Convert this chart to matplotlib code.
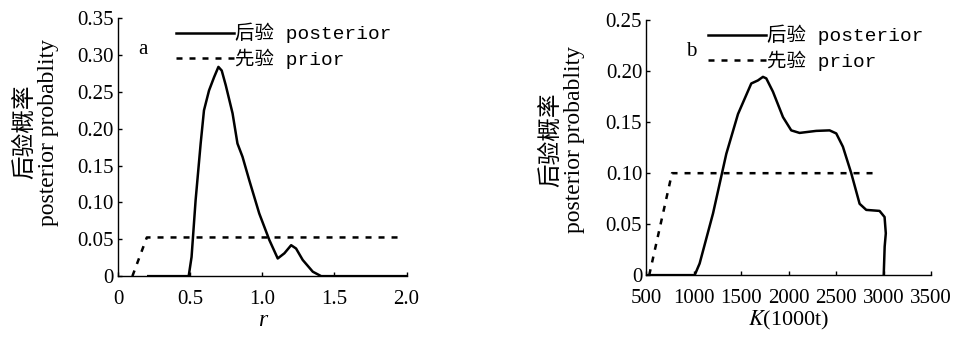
import matplotlib
matplotlib.use('Agg')
from matplotlib import pyplot as plt

plt.rcParams['mathtext.fontset'] = 'stix'

# panel a: growth rate r
r_post_x = [0.21, 0.43, 0.49, 0.51, 0.538, 0.573, 0.596, 0.631, 0.666, 0.696, 0.719, 0.747,
            0.794, 0.828, 0.863, 0.91, 0.979, 1.049, 1.107, 1.153, 1.2, 1.234, 1.28, 1.35, 1.408, 2.0]
r_post_y = [0, 0, 0, 0.026, 0.103, 0.18, 0.225, 0.252, 0.27, 0.284, 0.279, 0.259,
            0.221, 0.18, 0.162, 0.13, 0.085, 0.049, 0.024, 0.031, 0.042, 0.0375, 0.022, 0.006, 0, 0]
r_prior_x = [0.1, 0.2, 1.95]
r_prior_y = [0, 0.0525, 0.0525]

# panel b: carrying capacity K
k_post_x = [500, 1009, 1061, 1202, 1342, 1465, 1605, 1675, 1728, 1763, 1833, 1939, 2026, 2114,
            2289, 2430, 2500, 2570, 2658, 2746, 2816, 2956, 3009, 3022, 3010, 3000]
k_post_y = [0, 0, 0.0114, 0.0605, 0.119, 0.158, 0.188, 0.191, 0.1945, 0.193, 0.18, 0.155, 0.142, 0.1395,
            0.1415, 0.142, 0.139, 0.126, 0.1, 0.07, 0.064, 0.063, 0.057, 0.041, 0.028, 0]
k_prior_x = [530, 770, 2920]
k_prior_y = [0, 0.1, 0.1]

r_ticks = [0, 0.5, 1.0, 1.5, 2.0]
r_ticklabels = ['0', '0.5', '1.0', '1.5', '2.0']
r_yticks = [0, 0.05, 0.10, 0.15, 0.20, 0.25, 0.30, 0.35]
r_yticklabels = ['0', '0.05', '0.10', '0.15', '0.20', '0.25', '0.30', '0.35']
k_ticks = [500, 1000, 1500, 2000, 2500, 3000, 3500]
k_yticks = [0, 0.05, 0.10, 0.15, 0.20, 0.25]
k_yticklabels = ['0', '0.05', '0.10', '0.15', '0.20', '0.25']

serif = ['Liberation Serif', 'Noto Sans CJK SC']
mono = ['Liberation Mono', 'Noto Sans CJK SC']

fig = plt.figure(figsize=(9.59, 3.38), dpi=100)
ax1 = fig.add_axes([0.123, 0.183, 0.301, 0.763])
ax2 = fig.add_axes([0.674, 0.186, 0.297, 0.754])


def estilo(ax, xt, xtl, yt, ytl, lx, ly):
    for s in ['top', 'right']:
        ax.spines[s].set_visible(False)
    ax.spines['left'].set_linewidth(1.0)
    ax.spines['bottom'].set_linewidth(1.0)
    ax.set_xticks(xt)
    ax.set_xticklabels(xtl, family=serif, fontsize=15)
    ax.set_yticks(yt)
    ax.set_yticklabels(ytl, family=serif, fontsize=15)
    ax.tick_params(axis='y', direction='in', length=3, width=1, pad=3)
    ax.tick_params(axis='x', direction='in', length=3, width=1, pad=10)
    ax.set_ylabel('后验概率\nposterior probablity', family=serif, fontsize=17,
                  linespacing=1.1)
    ax.yaxis.set_label_coords(lx, ly)


ax1.plot(r_post_x, r_post_y, color='black', lw=1.8, label='后验 posterior')
ax1.plot(r_prior_x, r_prior_y, color='black', lw=1.8, dashes=(2.4, 2.8), label='先验 prior')
ax1.set_xlim(0, 2.0)
ax1.set_ylim(0, 0.35)
estilo(ax1, r_ticks, r_ticklabels, r_yticks, r_yticklabels, -0.205, 0.558)
ax1.set_xlabel('r', family=serif, style='italic', fontsize=17, labelpad=1)
ax1.text(0.07, 0.86, 'a', transform=ax1.transAxes, family=serif, fontsize=15)
ax1.legend(loc='upper left', bbox_to_anchor=(0.14, 1.05), frameon=False,
           prop={'family': mono, 'size': 14}, handlelength=3.0, handletextpad=0.05,
           labelspacing=0.25)

ax2.plot(k_post_x, k_post_y, color='black', lw=1.8, label='后验 posterior')
ax2.plot(k_prior_x, k_prior_y, color='black', lw=1.8, dashes=(2.4, 2.8), label='先验 prior')
ax2.set_xlim(500, 3500)
ax2.set_ylim(0, 0.25)
estilo(ax2, k_ticks, [str(k) for k in k_ticks], k_yticks, k_yticklabels, -0.215, 0.533)
ax2.set_xlabel('$K$(1000t)', family=serif, fontsize=16, labelpad=1)
ax2.text(0.14, 0.86, 'b', transform=ax2.transAxes, family=serif, fontsize=15)
ax2.legend(loc='upper left', bbox_to_anchor=(0.155, 1.05), frameon=False,
           prop={'family': mono, 'size': 14}, handlelength=3.0, handletextpad=0.05,
           labelspacing=0.25)

fig.savefig('out.png', dpi=100)
